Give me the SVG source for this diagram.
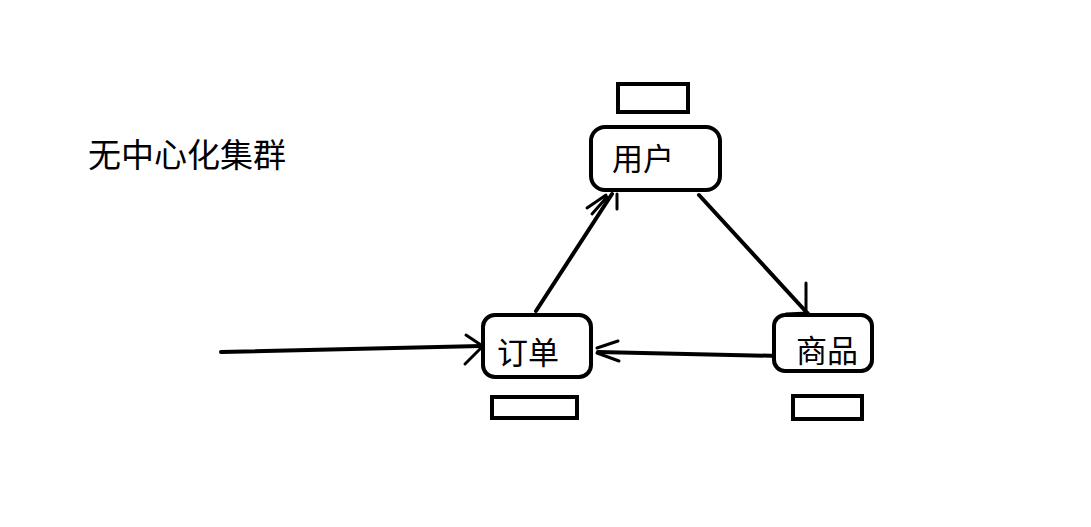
<svg xmlns="http://www.w3.org/2000/svg" width="1091" height="527" viewBox="0 0 1091 527">
<style>
.node{fill:#fff;stroke:#000;stroke-width:4}
.tag{fill:#fff;stroke:#000;stroke-width:4}
.t{font-family:"Noto Sans CJK SC","Microsoft YaHei",sans-serif;font-size:31px;fill:#000}
.c{fill:none;stroke:#000;stroke-width:4;stroke-linecap:round;stroke-linejoin:round}
.b{fill:none;stroke:#000;stroke-width:3;stroke-linecap:round}
</style>
<rect width="1091" height="527" fill="#fff"/>
<text x="88" y="167" class="t" style="font-size:33px">无中心化集群</text>
<g id="connectors">
<path class="c" d="M221 352 L481 346"/>
<path class="b" d="M466 335 L481 345 M465 364 L481 348"/>
<path class="c" d="M536 311 L612 194"/>
<path class="b" d="M587 208 L606 195 M592 214 L607 197 M617 194 L617 209"/>
<path class="c" d="M699 195 L810 316"/>
<path class="b" d="M806 283 L806 312 M786 314 L808 313"/>
<path class="c" d="M779 356 L598 352"/>
<path class="b" d="M618 341 L597 348 M619 361 L597 353"/>
</g>
<g id="user">
<rect class="tag" x="618" y="84" width="70" height="28"/>
<rect class="node" x="591" y="127" width="129" height="63" rx="14"/>
<text x="612" y="170" class="t">用户</text>
</g>
<g id="order">
<rect class="node" x="483" y="315" width="108" height="62" rx="12"/>
<text x="497" y="364" class="t">订单</text>
<rect class="tag" x="492" y="397" width="85" height="21"/>
</g>
<g id="goods">
<rect class="node" x="774" y="315" width="98" height="56" rx="11"/>
<text x="796" y="362" class="t">商品</text>
<rect class="tag" x="793" y="396" width="69" height="23"/>
</g>
</svg>
